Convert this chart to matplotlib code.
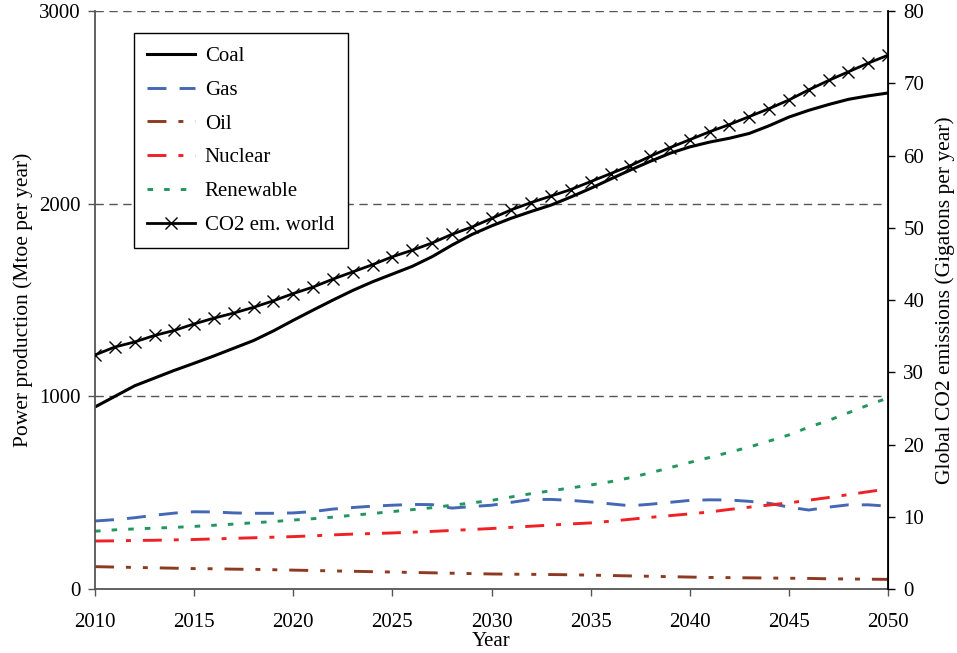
import matplotlib
matplotlib.use("Agg")
import matplotlib.pyplot as plt

plt.rcParams["font.family"] = ["Liberation Serif", "DejaVu Serif"]
plt.rcParams["font.size"] = 15

years = list(range(2010, 2051))

coal = [945, 1000, 1055, 1095, 1135, 1172, 1210, 1250, 1290, 1340,
        1395, 1448, 1500, 1550, 1595, 1635, 1675, 1725, 1785, 1840,
        1885, 1925, 1960, 1993, 2035, 2080, 2128, 2175, 2220, 2262,
        2295, 2320, 2340, 2365, 2405, 2450, 2485, 2515, 2542, 2560, 2575]

gas = [353, 360, 370, 383, 394, 401, 400, 395, 393, 393,
       395, 402, 415, 423, 430, 435, 439, 438, 420, 428,
       435, 450, 465, 465, 460, 452, 442, 432, 440, 450,
       460, 463, 462, 455, 445, 425, 410, 425, 437, 437, 430]

oil = [116, 114, 112, 110, 108, 106, 105, 103, 102, 100,
       98, 96, 94, 92, 90, 88, 86, 84, 82, 80,
       78, 77, 76, 75, 74, 72, 70, 68, 66, 64,
       62, 60, 59, 58, 57, 56, 55, 53, 52, 51, 50]

nuclear = [249, 250, 252, 253, 255, 257, 260, 263, 266, 269,
           272, 276, 281, 285, 288, 291, 295, 299, 304, 309,
           314, 320, 326, 332, 338, 343, 352, 362, 372, 381,
           390, 400, 413, 425, 436, 447, 461, 475, 490, 505, 520]

renewable = [300, 307, 312, 316, 320, 325, 331, 337, 344, 350,
             358, 365, 373, 383, 392, 402, 412, 422, 435, 447,
             460, 478, 495, 510, 525, 540, 557, 578, 603, 630,
             657, 683, 710, 737, 768, 800, 840, 875, 915, 955, 992]

co2 = [32.4, 33.5, 34.2, 35.1, 35.8, 36.7, 37.5, 38.2, 39.0, 39.9,
       40.9, 41.8, 42.9, 43.9, 44.9, 46.0, 46.9, 47.9, 49.1, 50.1,
       51.3, 52.5, 53.5, 54.4, 55.3, 56.4, 57.5, 58.6, 59.9, 61.1,
       62.2, 63.3, 64.3, 65.4, 66.5, 67.7, 69.1, 70.4, 71.6, 72.8, 73.9]

fig = plt.figure(figsize=(9.57, 6.53), dpi=100)
ax = fig.add_axes([0.0993, 0.098, 0.8287, 0.885])
ax2 = ax.twinx()

lw = 2.1
l1, = ax.plot(years, coal, color="black", lw=2.2, label="Coal")
l2, = ax.plot(years, gas, color="#4468B4", lw=lw, dashes=(6.5, 4.5), label="Gas")
l3, = ax.plot(years, oil, color="#8E3A22", lw=lw,
              dashes=(6.5, 4.1, 1.7, 4.1, 1.7, 4.1), label="Oil")
l4, = ax.plot(years, nuclear, color="#EE2226", lw=lw,
              dashes=(6.5, 4.1, 1.7, 4.1), label="Nuclear")
l5, = ax.plot(years, renewable, color="#23955F", lw=lw, dashes=(1.9, 3.8),
              label="Renewable")
l6, = ax2.plot(years, co2, color="black", lw=2.0, marker="x", markersize=8,
               markeredgewidth=1.0, label="CO2 em. world")

ax.set_xlim(2010, 2050)
ax.set_ylim(0, 3000)
ax2.set_ylim(0, 80)
ax.set_xticks(range(2010, 2051, 5))
ax.set_yticks([0, 1000, 2000, 3000])
ax2.set_yticks(range(0, 81, 10))

# dashed horizontal gridlines
for y in [1000, 2000, 3000]:
    ax.axhline(y, color="#555555", lw=1.0, dashes=(6, 4), zorder=0)

ax.spines["top"].set_visible(False)
ax2.spines["top"].set_visible(False)
ax.spines["left"].set_color("#555555")
ax.spines["bottom"].set_color("#555555")
ax2.spines["left"].set_visible(False)
ax2.spines["bottom"].set_visible(False)
ax.spines["left"].set_linewidth(1.3)
ax.spines["bottom"].set_linewidth(1.3)
ax2.spines["right"].set_linewidth(1.3)

ax.tick_params(axis="both", direction="out", length=5, width=1, colors="#555555",
               labelcolor="black", labelsize=15)
ax.tick_params(axis="x", pad=12)
ax.tick_params(axis="y", pad=5.5)
ax2.tick_params(axis="y", direction="out", length=5, width=1, labelsize=15, pad=6)

ax.set_xlabel("Year", labelpad=0)
ax.set_ylabel("Power production (Mtoe per year)", labelpad=4, fontsize=15.5)
ax2.set_ylabel("Global CO2 emissions (Gigatons per year)", labelpad=8, fontsize=15.5)

leg = ax2.legend(handles=[l1, l2, l3, l4, l5, l6], loc="upper left",
                 bbox_to_anchor=(0.049, 0.962), borderaxespad=0,
                 fancybox=False, framealpha=1, edgecolor="black",
                 handlelength=2.3, handletextpad=0.45, labelspacing=0.68,
                 borderpad=0.65, fontsize=15)
leg.get_frame().set_linewidth(1.0)

plt.savefig("out.png", dpi=100)
